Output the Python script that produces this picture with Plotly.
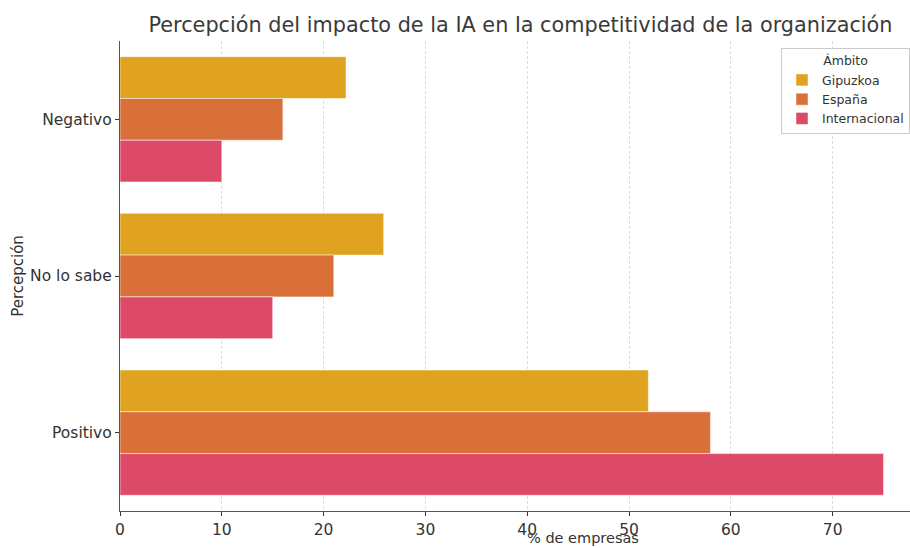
import plotly.graph_objects as go

# Perception of AI's impact on competitiveness, % of companies by scope
categories = ["Negativo", "No lo sabe", "Positivo"]
series_names = ["Gipuzkoa", "España", "Internacional"]
gipuzkoa = [22.2, 25.9, 51.9]
espana = [16.0, 21.0, 58.0]
internacional = [10.0, 15.0, 75.0]
x_ticks = [0, 10, 20, 30, 40, 50, 60, 70]

colors = ["#DFA321", "#D9703A", "#DC4A68"]
font_family = "DejaVu Sans, Verdana, sans-serif"

fig = go.Figure()
for name, vals, col in zip(series_names, [gipuzkoa, espana, internacional], colors):
    fig.add_trace(go.Bar(
        y=categories, x=vals, name=name, orientation="h",
        marker=dict(color=col, line=dict(color="rgba(255,255,255,0.5)", width=1)),
    ))

fig.update_layout(
    width=910, height=548,
    margin=dict(l=120, r=0, t=41, b=37),
    paper_bgcolor="white", plot_bgcolor="white",
    barmode="group", bargap=0.2, bargroupgap=0,
    font=dict(family=font_family, size=15.5, color="#333333"),
    title=dict(
        text="Percepción del impacto de la IA en la competitividad de la organización",
        x=0.572, xanchor="center", y=0.954, yanchor="middle",
        font=dict(size=20.8, color="#3a3a3a"),
    ),
    legend=dict(
        title=dict(text="Ámbito", side="top center", font=dict(size=12.5)),
        x=1.0, xanchor="right", y=0.985, yanchor="top",
        font=dict(size=12.5), bgcolor="rgba(255,255,255,0.85)",
        bordercolor="#cccccc", borderwidth=1, traceorder="normal",
        itemwidth=30, tracegroupgap=0,
    ),
    xaxis=dict(
        range=[0, 77.6], tickvals=x_ticks, ticks="outside", ticklen=4,
        tickcolor="#333333", showline=True, linecolor="#555555", linewidth=1.3,
        showgrid=True, gridcolor="#dddddd", griddash="3px,2px", gridwidth=1,
        zeroline=False, automargin=False,
    ),
    yaxis=dict(
        categoryorder="array", categoryarray=categories,
        range=[2.5, -0.5], ticks="outside", ticklen=4, tickcolor="#333333",
        showline=True, linecolor="#555555", linewidth=1.3, showgrid=False,
        automargin=False,
        title=dict(text="Percepción", standoff=2, font=dict(size=15)),
    ),
)

# x-axis title sits just below the tick labels, at the page's bottom edge
fig.add_annotation(
    text="% de empresas", xref="x", x=45.5, xanchor="center",
    yref="paper", y=-0.078, yanchor="bottom", showarrow=False,
    font=dict(size=14.5, color="#333333"),
)

fig.write_html("out.html")
